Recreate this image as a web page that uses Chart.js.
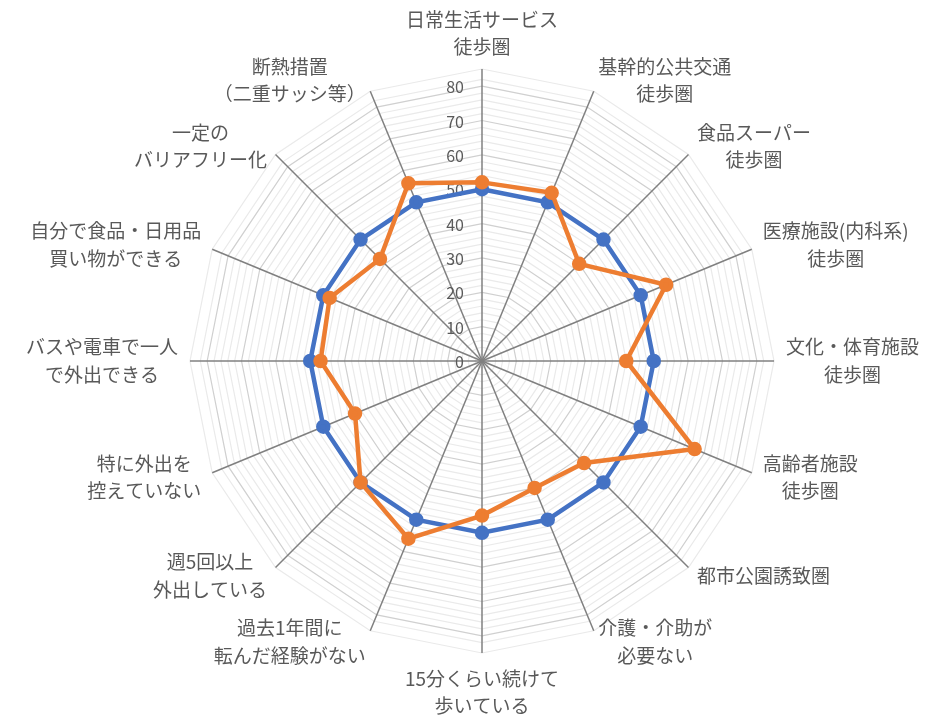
<!DOCTYPE html>
<html>
<head>
<meta charset="utf-8">
<script src="https://cdn.jsdelivr.net/npm/chart.js@4"></script>
<style>
  html, body { margin: 0; padding: 0; background: #ffffff; }
  #wrap { width: 933px; height: 721px; position: relative; }
</style>
</head>
<body>
<div id="wrap"><canvas id="c" width="933" height="721"></canvas></div>
<script>
const categories = [
  ['日常生活サービス', '徒歩圏'],
  ['基幹的公共交通', '徒歩圏'],
  ['食品スーパー', '徒歩圏'],
  ['医療施設(内科系)', '徒歩圏'],
  ['文化・体育施設', '徒歩圏'],
  ['高齢者施設', '徒歩圏'],
  ['都市公園誘致圏'],
  ['介護・介助が', '必要ない'],
  ['15分くらい続けて', '歩いている'],
  ['過去1年間に', '転んだ経験がない'],
  ['週5回以上', '外出している'],
  ['特に外出を', '控えていない'],
  ['バスや電車で一人', 'で外出できる'],
  ['自分で食品・日用品', '買い物ができる'],
  ['一定の', 'バリアフリー化'],
  ['断熱措置', '（二重サッシ等）']
];
const baseValues = [50, 50, 50, 50, 50, 50, 50, 50, 50, 50, 50, 50, 50, 50, 50, 50];
const areaValues = [52, 53, 40, 58, 42, 67, 42, 40, 45, 56, 50, 40, 47, 48, 42, 56];
const tickLabels = [0, 10, 20, 30, 40, 50, 60, 70, 80];
const axisMin = 0;
const axisMax = 85;
const minorStep = 2;

const LABEL_FONT = '19px "Noto Sans CJK JP", "Noto Sans", sans-serif';
const TICK_FONT = '16px "Noto Sans CJK JP", "Noto Sans", sans-serif';
const TEXT_COLOR = '#595959';

const customLabels = {
  id: 'customLabels',
  beforeDatasetsDraw(chart) {
    const scale = chart.scales.r;
    const ctx = chart.ctx;
    ctx.save();
    // tick labels, left of vertical axis
    ctx.font = TICK_FONT;
    ctx.fillStyle = TEXT_COLOR;
    ctx.textAlign = 'right';
    ctx.textBaseline = 'middle';
    tickLabels.forEach(v => {
      const d = scale.getDistanceFromCenterForValue(v);
      ctx.fillText(String(v), scale.xCenter - 18, scale.yCenter - d + 1);
    });
    // point labels
    ctx.font = LABEL_FONT;
    const lh = 27.5;
    categories.forEach((lines, i) => {
      const p = scale.getPointPosition(i, scale.drawingArea + 12);
      const theta = scale.getIndexAngle(i);
      const sx = Math.sin(theta);
      const cy = Math.cos(theta);
      const w = Math.max(...lines.map(t => ctx.measureText(t).width));
      const h = lines.length * lh;
      let cx;
      if (Math.abs(sx) < 0.01) cx = p.x;
      else if (sx > 0) cx = p.x + w / 2;
      else cx = p.x - w / 2;
      let top;
      if (Math.abs(sx) < 0.01 && cy > 0) top = p.y - h + 4;
      else if (Math.abs(sx) < 0.01 && cy < 0) top = p.y;
      else top = p.y - h / 2;
      ctx.textAlign = 'center';
      ctx.textBaseline = 'middle';
      lines.forEach((t, k) => {
        ctx.fillText(t, cx, top + lh * k + lh / 2);
      });
    });
    ctx.restore();
  }
};

new Chart(document.getElementById('c'), {
  type: 'radar',
  data: {
    labels: categories,
    datasets: [
      {
        label: '基準',
        data: baseValues,
        borderColor: '#4472C4',
        backgroundColor: '#4472C4',
        pointBackgroundColor: '#4472C4',
        pointBorderColor: '#4472C4',
        borderWidth: 4.5,
        pointRadius: 5,
        fill: false,
        order: 2
      },
      {
        label: '地区',
        data: areaValues,
        borderColor: '#ED7D31',
        backgroundColor: '#ED7D31',
        pointBackgroundColor: '#ED7D31',
        pointBorderColor: '#ED7D31',
        borderWidth: 4.5,
        pointRadius: 5,
        fill: false,
        order: 1
      }
    ]
  },
  options: {
    responsive: false,
    animation: false,
    devicePixelRatio: 1,
    layout: { padding: { top: 69, bottom: 68, left: 31, right: 0 } },
    plugins: { legend: { display: false }, tooltip: { enabled: false } },
    elements: { line: { tension: 0 } },
    scales: {
      r: {
        min: axisMin,
        max: axisMax,
        ticks: { display: false, stepSize: minorStep },
        pointLabels: { display: false },
        angleLines: { display: true, color: '#808080', lineWidth: 1.5 },
        grid: {
          color: (c) => (c.tick && c.tick.value % 10 === 0) ? '#d0d0d0' : '#eaeaea',
          lineWidth: 1.2
        }
      }
    }
  },
  plugins: [customLabels]
});
</script>
</body>
</html>
